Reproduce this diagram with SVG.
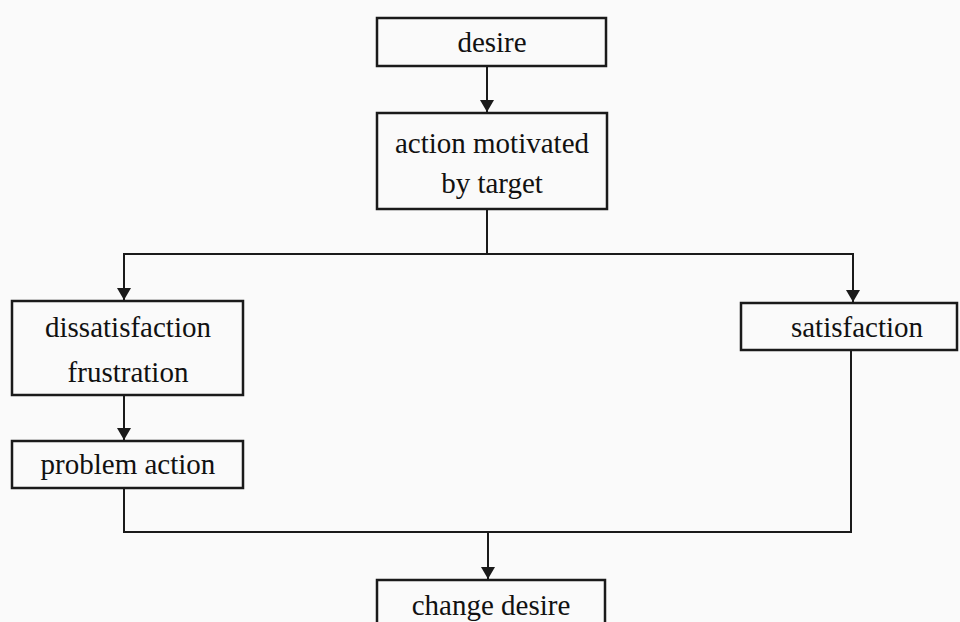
<svg xmlns="http://www.w3.org/2000/svg" width="960" height="622" viewBox="0 0 960 622">
<style>
.box{fill:none;stroke:#1a1a1a;stroke-width:2.5}
.t{font-family:'Liberation Serif','Times New Roman',serif;font-size:29px;fill:#111;text-anchor:middle}
.c{fill:none;stroke:#1a1a1a;stroke-width:2}
</style>
<defs>
<marker id="ah" viewBox="0 0 12 14" refX="12" refY="7" markerWidth="12" markerHeight="14" markerUnits="userSpaceOnUse" orient="auto">
<path d="M0,0 L12,7 L0,14 Z" fill="#1a1a1a"/>
</marker>
</defs>
<rect width="960" height="622" fill="#fafafa"/>
<g id="connectors">
<line class="c" x1="487" y1="66" x2="487" y2="112" marker-end="url(#ah)"/>
<line class="c" x1="487" y1="209" x2="487" y2="254"/>
<line class="c" x1="123" y1="254" x2="854" y2="254"/>
<line class="c" x1="124" y1="254" x2="124" y2="300" marker-end="url(#ah)"/>
<line class="c" x1="853" y1="254" x2="853" y2="302" marker-end="url(#ah)"/>
<line class="c" x1="124" y1="395" x2="124" y2="440" marker-end="url(#ah)"/>
<polyline class="c" points="124,488 124,532 851,532 851,350"/>
<line class="c" x1="488" y1="532" x2="488" y2="579" marker-end="url(#ah)"/>
</g>
<g id="desire">
<rect class="box" x="377" y="18" width="229" height="48"/>
<text class="t" x="492" y="52">desire</text>
</g>
<g id="action">
<rect class="box" x="377" y="113" width="230" height="96"/>
<text class="t" x="492" y="153">action motivated</text>
<text class="t" x="492" y="193">by target</text>
</g>
<g id="dissatisfaction">
<rect class="box" x="12" y="301" width="231" height="94"/>
<text class="t" x="128" y="337">dissatisfaction</text>
<text class="t" x="128" y="382">frustration</text>
</g>
<g id="problem">
<rect class="box" x="12" y="441" width="231" height="47"/>
<text class="t" x="128" y="474">problem action</text>
</g>
<g id="satisfaction">
<rect class="box" x="741" y="303" width="216" height="47"/>
<text class="t" x="857" y="337">satisfaction</text>
</g>
<g id="change">
<rect class="box" x="377" y="580" width="228" height="60"/>
<text class="t" x="491" y="615">change desire</text>
</g>
</svg>
